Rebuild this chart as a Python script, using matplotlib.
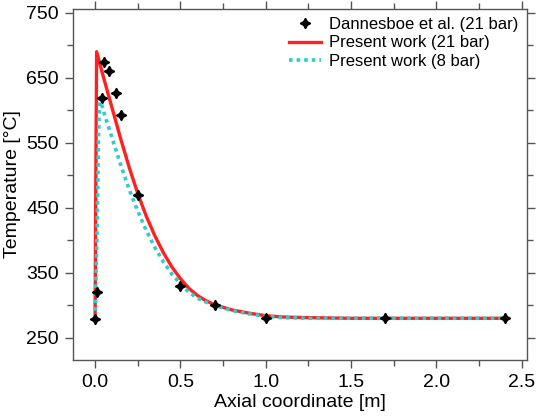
import numpy as np
import matplotlib
matplotlib.use("Agg")
import matplotlib.pyplot as plt

plt.rcParams["font.family"] = ["Liberation Sans", "DejaVu Sans"]

# Dannesboe et al. (21 bar) measurements
exp_x = [0.0, 0.01, 0.038, 0.053, 0.08, 0.12, 0.15, 0.25, 0.5, 0.7, 1.0, 1.7, 2.4]
exp_T = [279, 320, 619, 674, 660, 627, 592, 469, 329, 300, 280, 280, 280]

# Present work (21 bar)
red_x = [0.0, 0.004, 0.009, 0.05, 0.1, 0.15, 0.2, 0.25, 0.3, 0.35, 0.4, 0.45,
         0.5, 0.55, 0.6, 0.65, 0.7, 0.8, 0.9, 1.0, 1.1, 1.25, 1.5, 2.0, 2.4]
red_T = [280, 480, 690, 650, 603, 556, 512, 472, 437, 407, 381, 359,
         341, 326, 315, 307, 301, 293, 288, 284, 282, 281, 280, 280, 280]

# Present work (8 bar)
cyan_x = [0.0, 0.012, 0.02, 0.027, 0.05, 0.1, 0.15, 0.2, 0.25, 0.3, 0.35,
          0.4, 0.45, 0.5, 0.55, 0.6, 0.65, 0.7, 0.8, 0.9, 1.0, 1.1, 1.25,
          1.5, 2.0, 2.4]
cyan_T = [280, 420, 560, 619, 598, 557, 516, 478, 445, 415, 389,
          367, 348, 333, 320, 311, 305, 300, 292, 287, 283, 281, 280,
          280, 280, 280]

fig = plt.figure(figsize=(5.36, 4.19), dpi=100)
ax = fig.add_axes([0.136, 0.141, 0.847, 0.838])

ax.plot(exp_x, exp_T, linestyle="none", marker=(4, 1, 0), ms=7.5, color="black",
        label="Dannesboe et al. (21 bar)", zorder=4)
ax.plot(red_x, red_T, color="#ff2020", lw=2.4, label="Present work (21 bar)", zorder=2)
ax.plot(cyan_x, cyan_T, color="#2ecccc", lw=2.6, linestyle=(0, (1, 1.1)),
        label="Present work (8 bar)", zorder=3)

ax.set_xlim(-0.13, 2.53)
ax.set_ylim(216, 756)
ax.set_xticks([0, 0.5, 1.0, 1.5, 2.0, 2.5])
ax.set_xticks(np.arange(0, 2.51, 0.25), minor=True)
ax.set_yticks([250, 350, 450, 550, 650, 750])
ax.set_yticks(np.arange(250, 751, 50), minor=True)
ax.xaxis.set_major_formatter(matplotlib.ticker.FormatStrFormatter("%.1f"))

for s in ax.spines.values():
    s.set_color("#555555")
    s.set_linewidth(1.0)
ax.tick_params(which="both", direction="out", top=True, right=True,
               labeltop=False, labelright=False, color="#555555", width=1.0)
ax.tick_params(which="major", length=6, labelsize=14, pad=4)
ax.tick_params(which="minor", length=4)

ax.set_xlabel("Axial coordinate [m]", fontsize=14, labelpad=2)
ax.set_ylabel("Temperature [°C]", fontsize=14, labelpad=4)

ax.legend(loc="upper right", frameon=False, fontsize=12, handlelength=1.9,
          handletextpad=0.5, labelspacing=0.2, borderaxespad=0.3,
          borderpad=0.2)

fig.savefig("out.png", dpi=100)
